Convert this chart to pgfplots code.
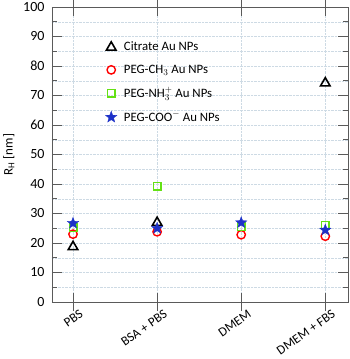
\documentclass[border=0pt]{standalone}
\usepackage{pgfplots}
\pgfplotsset{compat=1.18}
\usepackage{fontspec}
\setmainfont{Carlito}
\definecolor{gridc}{RGB}{205,218,228}
\definecolor{limeg}{RGB}{100,225,20}
\definecolor{starb}{RGB}{30,50,200}
\definecolor{axc}{RGB}{90,90,90}
\pgfdeclareplotmark{fivestar}{%
  \pgfpathmoveto{\pgfpointpolar{90}{\pgfplotmarksize}}%
  \pgfpathlineto{\pgfpointpolar{126}{0.42\pgfplotmarksize}}%
  \pgfpathlineto{\pgfpointpolar{162}{\pgfplotmarksize}}%
  \pgfpathlineto{\pgfpointpolar{198}{0.42\pgfplotmarksize}}%
  \pgfpathlineto{\pgfpointpolar{234}{\pgfplotmarksize}}%
  \pgfpathlineto{\pgfpointpolar{270}{0.42\pgfplotmarksize}}%
  \pgfpathlineto{\pgfpointpolar{306}{\pgfplotmarksize}}%
  \pgfpathlineto{\pgfpointpolar{342}{0.42\pgfplotmarksize}}%
  \pgfpathlineto{\pgfpointpolar{18}{\pgfplotmarksize}}%
  \pgfpathlineto{\pgfpointpolar{54}{0.42\pgfplotmarksize}}%
  \pgfpathclose\pgfusepathqfillstroke}
\begin{document}
\begin{tikzpicture}
\begin{axis}[
  scale only axis, width=296pt, height=295pt,
  xmin=-0.25, xmax=3.27, ymin=0, ymax=100,
  xtick={0,1,2,3},
  xticklabels={PBS, BSA + PBS, DMEM, DMEM + FBS},
  x tick label style={rotate=35, anchor=north east, font=\fontsize{13}{14}\selectfont, xshift=7pt, yshift=-2pt},
  ytick={0,10,...,100},
  minor ytick={5,15,...,95},
  y tick label style={font=\fontsize{14}{15}\selectfont, xshift=-4pt},
  /pgf/number format/assume math mode=true,
  ylabel={R$_\mathrm{H}$ [nm]},
  ylabel style={font=\fontsize{13}{14}\selectfont, yshift=2pt},
  axis line style={axc, thick},
  tick style={axc, thick},
  xtick align=center,
  ytick align=inside,
  major tick length=10pt, minor tick length=5pt,
  x tick style={/pgfplots/major tick length=18pt},
  xmajorgrids, ymajorgrids, yminorgrids,
  grid style={gridc, densely dotted, thin},
  minor grid style={gridc, densely dotted, thin},
  legend style={draw=none, fill=none, at={(0.17,0.895)}, anchor=north west,
    font=\fontsize{12.8}{14}\selectfont, row sep=8.5pt, column sep=5pt, legend cell align=left},
  clip=false,
]
\addplot[only marks, mark=triangle, mark size=5.5pt, black, line width=1.6pt] coordinates {(0,18.7) (1,26.9) (3,74.2)};
\addlegendentry{Citrate Au NPs}
\addplot[only marks, mark=o, mark size=4.2pt, red, line width=1.4pt] coordinates {(0,23.0) (1,23.8) (2,22.8) (3,22.3)};
\addlegendentry{PEG-CH$_3$ Au NPs}
\addplot[only marks, mark=square, mark size=3.8pt, limeg, line width=1.4pt] coordinates {(0,25.2) (1,39.3) (2,25.5) (3,26.0)};
\addlegendentry{PEG-NH$_3^+$ Au NPs}
\addplot[only marks, mark=fivestar, mark size=6pt, starb, line width=0.3pt, mark options={fill=starb}] coordinates {(0,26.7) (1,25.0) (2,26.9) (3,24.4)};
\addlegendentry{PEG-COO$^-$ Au NPs}
\end{axis}
\pgfresetboundingbox
\useasboundingbox ([xshift=-52pt,yshift=-57pt]current axis.south west) rectangle ([xshift=1pt,yshift=7pt]current axis.north east);
\end{tikzpicture}
\end{document}
